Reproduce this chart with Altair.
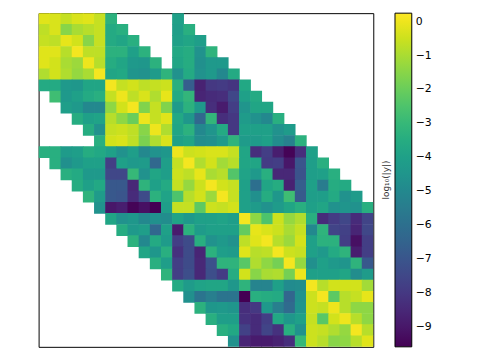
import altair as alt
import pandas as pd

N = None
rows = [
    [-0.2,-0.3,-0.6,-0.3,-0.2,-0.6,-3.3,N,N,N,N,N,-4.0]+[N]*17,
    [-0.7,-0.3,-1.5,-1.0,-0.8,-0.6,-3.6,-3.4,N,N,N,N,-4.1,-3.4]+[N]*16,
    [-0.6,-0.7,-0.1,-0.4,-1.5,-0.6,-3.6,-3.8,-3.4,N,N,N,-4.0,-3.8,-4.1]+[N]*15,
    [-0.2,-0.2,-0.8,0.1,-0.7,-0.7,-3.3,-3.3,-4.0,-3.3,N,N,-3.7,-3.5,-4.6,-3.2]+[N]*14,
    [-0.2,-0.4,-1.0,-1.2,0.0,-0.8,-3.5,-3.8,-4.3,-4.4,-3.3,N,-3.8,-3.5,-4.7,-4.3,-4.3]+[N]*13,
    [-0.9,-0.4,-0.9,-1.3,-1.0,0.1,-3.8,-3.7,-4.5,-4.6,-4.2,-3.2,-4.6,-3.6,-4.6,-4.3,-5.0,-3.6]+[N]*12,
    [-3.6,-3.6,-4.3,-4.4,-3.8,-3.8,0.1,-0.6,-0.4,-0.7,-0.6,-0.5,-3.4,-6.7,-8.7,-8.0,-7.9,-8.1,-3.7]+[N]*11,
    [N,-2.8,-4.3,-4.0,-3.6,-3.4,-0.6,0.0,-0.7,-0.3,-0.9,-0.1,-3.6,-3.1,-8.6,-8.4,-8.3,-7.5,-4.0,-3.6]+[N]*10,
    [N,N,-4.1,-4.3,-5.0,-5.0,-1.4,-0.4,0.1,-1.6,-0.6,-1.6,-4.2,-3.3,-4.3,-8.3,-8.9,-7.8,-4.5,-3.8,-3.8]+[N]*9,
    [N]*3+[-3.5,-4.0,-3.9,-0.8,-1.4,-2.0,0.0,-0.6,-0.2,-3.7,-4.4,-6.3,-3.1,-8.3,-8.0,-4.2,-4.6,-5.0,-3.4]+[N]*8,
    [N]*4+[-3.5,-4.6,-0.6,-0.5,-0.7,-1.5,0.0,-0.9,-3.8,-3.3,-5.0,-4.5,-3.6,-8.0,-4.0,-4.0,-4.0,-4.6,-4.2]+[N]*7,
    [N]*5+[-3.4,-0.4,-0.3,-0.7,-1.7,-0.9,-0.3,-4.0,-3.8,-4.8,-4.7,-4.2,-3.2,-4.2,-4.2,-4.0,-4.8,-5.3,-3.3]+[N]*6,
    [-3.4,-3.4,-4.2,-4.1,-3.5,-3.7,-4.0,-4.6,-4.1,-5.0,-4.6,-4.4,0.0,-0.5,-0.4,-0.3,-0.3,-0.6,-3.8,-8.3,-7.8,-8.8,-9.5,-8.3,-4.0]+[N]*5,
    [N,-3.4,-4.7,-4.3,-4.0,-4.0,-7.8,-4.0,-4.3,-4.2,-6.3,-4.1,-0.6,0.1,-0.9,-0.4,-1.1,-0.8,-3.8,-3.8,-7.9,-7.8,-9.0,-7.0,-4.1,-3.4]+[N]*4,
    [N,N,-3.4,-3.6,-4.3,-4.3,-7.5,-7.5,-3.0,-4.6,-3.8,-4.1,-0.5,-0.7,-0.1,-1.0,-0.8,-2.4,-3.9,-4.3,-3.4,-8.5,-8.5,-7.1,-4.1,-4.0,-3.4]+[N]*3,
    [N]*3+[-3.5,-4.0,-3.7,-6.9,-6.9,-8.5,-3.2,-4.0,-3.6,-0.6,-1.3,-0.5,0.1,-0.4,-0.6,-4.0,-6.0,-3.8,-3.5,-8.7,-6.7,-4.0,-5.5,-3.5,-3.6]+[N]*2,
    [N]*4+[-3.2,-4.2,-6.9,-7.0,-8.4,-7.4,-3.3,-3.9,-2.5,-0.8,-0.4,-1.2,0.1,-0.6,-4.0,-4.7,-3.5,-4.4,-2.8,-6.8,-4.1,-4.1,-3.6,-4.6,-4.2,N],
    [N]*5+[-4.6,-9.0,-8.8,-9.5,-9.2,-9.6,-4.1,-0.6,-0.6,-2.2,-0.5,-0.6,-0.4,-4.0,-4.2,-4.6,-4.2,-3.8,-3.4,-4.0,-3.8,-4.6,-4.5,-4.6,-3.4],
    [N]*6+[-3.8,-4.6,-4.4,-5.0,-4.7,-4.8,-3.9,-4.3,-4.0,-4.0,-3.9,-4.1,0.1,-1.4,-2.5,-0.5,-1.3,-0.9,-3.4,-8.4,-7.9,-7.5,-8.4,-7.6],
    [N]*7+[-3.5,-4.3,-4.1,-6.3,-4.0,-8.9,-3.3,-4.2,-4.0,-4.0,-4.0,-2.1,-0.1,-0.3,-0.5,-1.0,-0.6,-5.0,-3.2,-7.6,-7.7,-8.6,-7.5],
    [N]*8+[-3.3,-5.0,-3.6,-4.2,-7.8,-7.4,-3.4,-4.6,-4.3,-4.6,-0.7,-0.2,0.1,-0.8,-1.2,-0.4,-4.0,-3.3,-3.3,-7.8,-9.2,-7.8],
    [N]*9+[-3.8,-4.4,-3.4,-8.2,-7.4,-8.6,-3.3,-4.1,-4.2,-0.2,-0.8,-0.7,0.1,-0.5,-0.6,-4.0,-4.3,-3.6,-3.2,-8.8,-7.8],
    [N]*10+[-3.4,-4.1,-7.8,-7.4,-8.5,-7.2,-3.2,-3.2,-2.3,-0.9,-1.4,-1.8,0.1,-1.3,-4.7,-4.0,-4.3,-4.5,-3.2,-6.9],
    [N]*11+[-3.2,-7.8,-7.3,-8.5,-7.3,-7.9,-3.5,-0.4,-1.5,-1.0,-0.9,-1.8,0.0,-4.0,-4.0,-4.0,-3.8,-4.8,-4.2],
    [N]*12+[-3.6,-4.2,-3.9,-3.8,-3.8,-4.4,-3.2,-5.2,-5.2,-4.0,-4.9,-4.8,0.1,-0.8,-0.4,-0.4,-0.4,-1.1],
    [N]*13+[-4.7,-5.8,-5.4,-5.8,-5.8,-9.6,-3.4,-3.5,-3.6,-6.4,-4.6,-0.5,0.1,-2.2,-0.8,-0.6,-0.1],
    [N]*14+[-3.3,-4.4,-4.3,-4.5,-8.3,-8.0,-4.3,-5.4,-6.2,-4.5,-0.5,-0.6,0.0,-0.8,-1.4,-1.4],
    [N]*15+[-3.4,-4.1,-4.1,-8.2,-8.4,-7.8,-3.7,-4.4,-4.0,-0.6,-2.3,-0.4,0.0,-0.8,-1.4],
    [N]*16+[-3.4,-3.7,-7.7,-8.4,-7.6,-8.2,-3.4,-4.6,-0.5,-0.6,-0.9,-1.3,0.1,-0.8],
    [N]*17+[-4.6,-8.6,-8.9,-8.9,-8.7,-8.3,-3.0,-0.5,-0.8,-1.5,-1.4,-0.8,-0.2],
]
color_ticks = [-9, -8, -7, -6, -5, -4, -3, -2, -1, 0]
color_domain = [-9.58, 0.25]
colorbar_label = ["log₁₀(|y|)"]
n_cells = 30

records = []
for r, row in enumerate(rows):
    for c, v in enumerate(row):
        if v is not None:
            records.append({"row": r, "col": c, "v": v})
df = pd.DataFrame(records)

# cells overlap their neighbours by a hair to hide anti-aliasing seams
seam = 0.03
heat = alt.Chart(df).transform_calculate(
    x0=f"datum.col - {seam}", x1=f"datum.col + 1 + {seam}",
    y0=f"datum.row - {seam}", y1=f"datum.row + 1 + {seam}",
).mark_rect(clip=True).encode(
    x=alt.X("x0:Q", axis=None, scale=alt.Scale(domain=[0, n_cells], nice=False, zero=False)),
    x2="x1:Q",
    y=alt.Y("y0:Q", axis=None, scale=alt.Scale(domain=[0, n_cells], nice=False, zero=False, reverse=True)),
    y2="y1:Q",
    color=alt.Color(
        "v:Q",
        scale=alt.Scale(scheme="viridis", domain=color_domain),
        legend=alt.Legend(
            title=None,
            orient="none",
            legendX=361,
            legendY=0,
            direction="vertical",
            gradientLength=338,
            gradientThickness=17,
            gradientStrokeColor="black",
            gradientStrokeWidth=1,
            values=color_ticks,
            labelOverlap=False,
            labelFontSize=11,
            labelFont="DejaVu Sans",
            labelColor="black",
            labelOffset=4,
        ),
    ),
)

label = alt.Chart(pd.DataFrame({"t": colorbar_label})).mark_text(
    angle=270, font="DejaVu Sans", fontSize=9, color="#333", align="center", baseline="middle"
).encode(text="t:N", x=alt.value(352), y=alt.value(169))

chart = alt.layer(heat, label).properties(
    width=339,
    height=338,
    autosize="none",
    padding={"left": 31, "top": 3, "right": 100, "bottom": 3},
).configure_view(stroke="black", strokeWidth=1)

chart.save("out.html", embed_options={"renderer": "svg", "actions": False})
